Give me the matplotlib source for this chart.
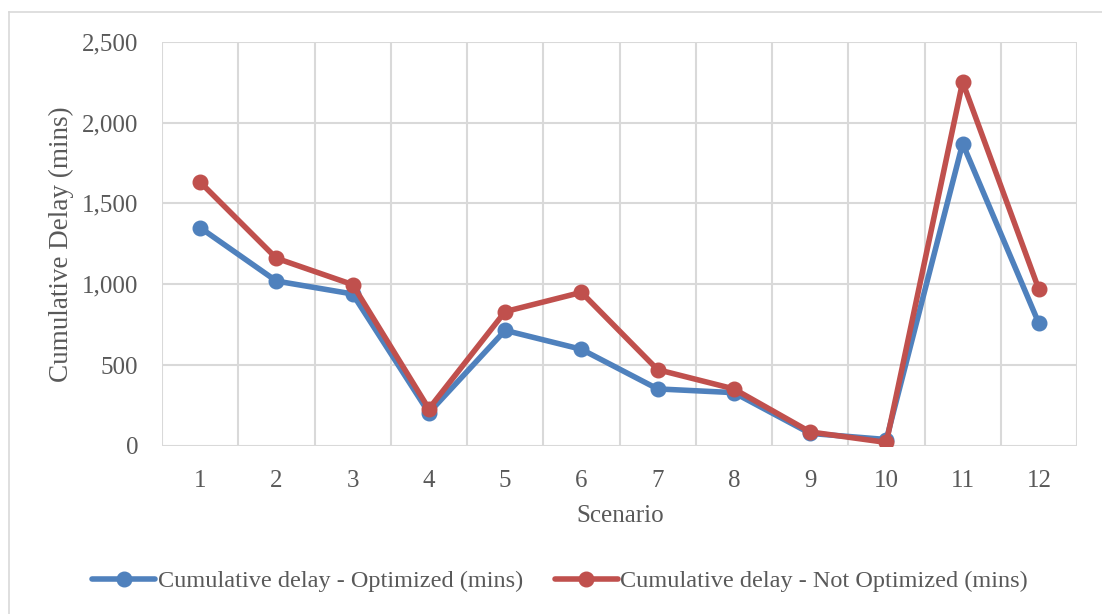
#!/usr/bin/env python3

import matplotlib
matplotlib.use("Agg")
import matplotlib.pyplot as plt
from matplotlib.lines import Line2D
from matplotlib.ticker import FuncFormatter, MultipleLocator

# data
scenarios = [1, 2, 3, 4, 5, 6, 7, 8, 9, 10, 11, 12]
optimized = [1350, 1020, 940, 205, 715, 598, 353, 330, 78, 40, 1870, 758]
not_optimized = [1632, 1161, 998, 230, 831, 950, 472, 353, 87, 22, 2251, 968]
series_labels = ["Cumulative delay - Optimized (mins)",
                 "Cumulative delay - Not Optimized (mins)"]

BLUE = "#4F81BD"
RED = "#C0504D"
GRID = "#D9D9D9"
TEXT = "#595959"

plt.rcParams["font.family"] = ["Liberation Serif", "DejaVu Serif"]

W, H = 1102, 614
fig = plt.figure(figsize=(W / 100, H / 100), dpi=100)
fig.patch.set_facecolor("white")

# chart area border (only left and top visible in the reference)
fig.add_artist(Line2D([9 / W, 9 / W], [0, 1 - 12 / H], transform=fig.transFigure, color=GRID, lw=1.2))
fig.add_artist(Line2D([9 / W, 1], [1 - 12 / H, 1 - 12 / H], transform=fig.transFigure, color=GRID, lw=1.2))

left, right = 162 / W, 1077 / W
top, bottom = 1 - 41.7 / H, 1 - 446 / H
ax = fig.add_axes([left, bottom, right - left, top - bottom])

ax.plot(scenarios, optimized, color=BLUE, lw=4, marker="o", ms=10.5,
        solid_capstyle="round", label=series_labels[0], zorder=3)
ax.plot(scenarios, not_optimized, color=RED, lw=4, marker="o", ms=10.5,
        solid_capstyle="round", label=series_labels[1], zorder=4)

ax.set_xlim(0.5, 12.5)
ax.set_ylim(0, 2500)
ax.set_xticks(scenarios)
ax.xaxis.set_minor_locator(MultipleLocator(1, offset=0.5))
ax.yaxis.set_major_locator(MultipleLocator(500))
ax.yaxis.set_major_formatter(FuncFormatter(lambda v, p: f"{int(v):,}"))

ax.grid(True, which="major", axis="y", color=GRID, lw=1.5)
ax.grid(True, which="minor", axis="x", color=GRID, lw=1.5)
ax.set_axisbelow(True)
for s in ax.spines.values():
    s.set_visible(False)

ax.tick_params(axis="both", which="both", length=0, labelsize=18, colors=TEXT)
ax.tick_params(axis="y", pad=17)
ax.tick_params(axis="x", pad=17)

fig.text(620 / W, 1 - 516 / H, "Scenario", ha="center", va="center", fontsize=18, color=TEXT)
fig.text(61 / W, 1 - 244 / H, "Cumulative Delay (mins)", ha="center", va="center",
         rotation=90, fontsize=19.5, color=TEXT)

fig.legend(loc="center", bbox_to_anchor=(560 / W, 1 - 581 / H), ncol=2, frameon=False,
           fontsize=17.5, handlelength=2.6, handletextpad=0.1, columnspacing=1.3,
           labelcolor=TEXT, borderaxespad=0)

fig.savefig("out.png", dpi=100, facecolor="white")
